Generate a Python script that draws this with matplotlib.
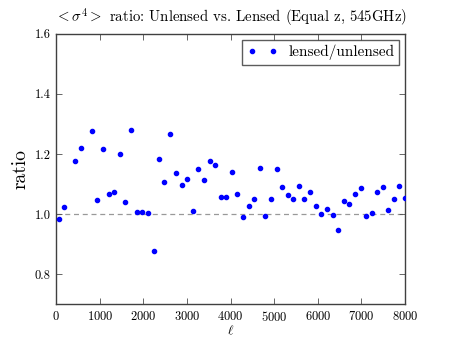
import numpy as np
import matplotlib
matplotlib.use('Agg')
import matplotlib.pyplot as plt

plt.rcParams['font.family'] = 'serif'
plt.rcParams['font.serif'] = ['cmr10']
plt.rcParams['mathtext.fontset'] = 'cm'
plt.rcParams['axes.unicode_minus'] = False
plt.rcParams['axes.formatter.use_mathtext'] = True

# multipole bins and lensed/unlensed ratio of <sigma^4>
ell = [53, 177, 437, 567, 812, 943, 1065, 1203, 1326, 1456, 1586, 1716, 1847,
       1977, 2108, 2238, 2360, 2483, 2613, 2743, 2874, 3004, 3126, 3257, 3387,
       3517, 3648, 3770, 3900, 4023, 4153, 4276, 4414, 4536, 4667, 4797, 4927,
       5057, 5188, 5310, 5441, 5570, 5694, 5824, 5947, 6076, 6207, 6338, 6460,
       6590, 6720, 6851, 6982, 7111, 7234, 7356, 7487, 7616, 7740, 7869, 7993]
ratio = [0.982, 1.022, 1.176, 1.220, 1.277, 1.046, 1.218, 1.066, 1.073, 1.199,
         1.040, 1.280, 1.006, 1.008, 1.003, 0.876, 1.184, 1.107, 1.267, 1.136,
         1.096, 1.118, 1.010, 1.150, 1.114, 1.177, 1.163, 1.057, 1.057, 1.139,
         1.068, 0.990, 1.027, 1.049, 1.152, 0.993, 1.049, 1.150, 1.090, 1.063,
         1.050, 1.093, 1.049, 1.074, 1.028, 1.001, 1.016, 0.997, 0.948, 1.044,
         1.032, 1.068, 1.088, 0.994, 1.004, 1.073, 1.091, 1.013, 1.050, 1.093,
         1.052]

fig = plt.figure(figsize=(4.5, 3.38), dpi=100)
ax = fig.add_axes([0.125, 0.1, 0.775, 0.8])

ax.axhline(1.0, color='0.6', ls='--', lw=0.9, dashes=(4, 3), zorder=1)
ax.plot(ell, ratio, 'o', color='b', mec='b', ms=3.0, label='lensed/unlensed', zorder=3)

ax.set_xlim(0, 8000)
ax.set_ylim(0.7, 1.6)
ax.set_xticks(np.arange(0, 8001, 1000))
ax.set_yticks([0.8, 1.0, 1.2, 1.4, 1.6])
ax.set_yticklabels(['0.8', '1.0', '1.2', '1.4', '1.6'])
ax.tick_params(direction='in', top=True, right=True, length=4, width=0.6,
               labelsize=9, color='0.3', pad=4)
for s in ax.spines.values():
    s.set_linewidth(1.0)
    s.set_color('0.25')

ax.set_xlabel(r'$\ell$', fontsize=9.5, labelpad=0)
ax.set_ylabel('ratio', fontsize=14)
ax.set_title(r'$<\sigma^4>$ ratio: Unlensed vs. Lensed (Equal z, 545GHz)', fontsize=10.7, pad=9)

leg = ax.legend(loc='upper right', numpoints=2, fontsize=11, fancybox=False,
                handlelength=2, borderpad=0.3, handletextpad=0.7, borderaxespad=0.4)
leg.get_frame().set_edgecolor('0.2')
leg.get_frame().set_linewidth(1.0)

fig.savefig('out.png', dpi=100, facecolor='white')
